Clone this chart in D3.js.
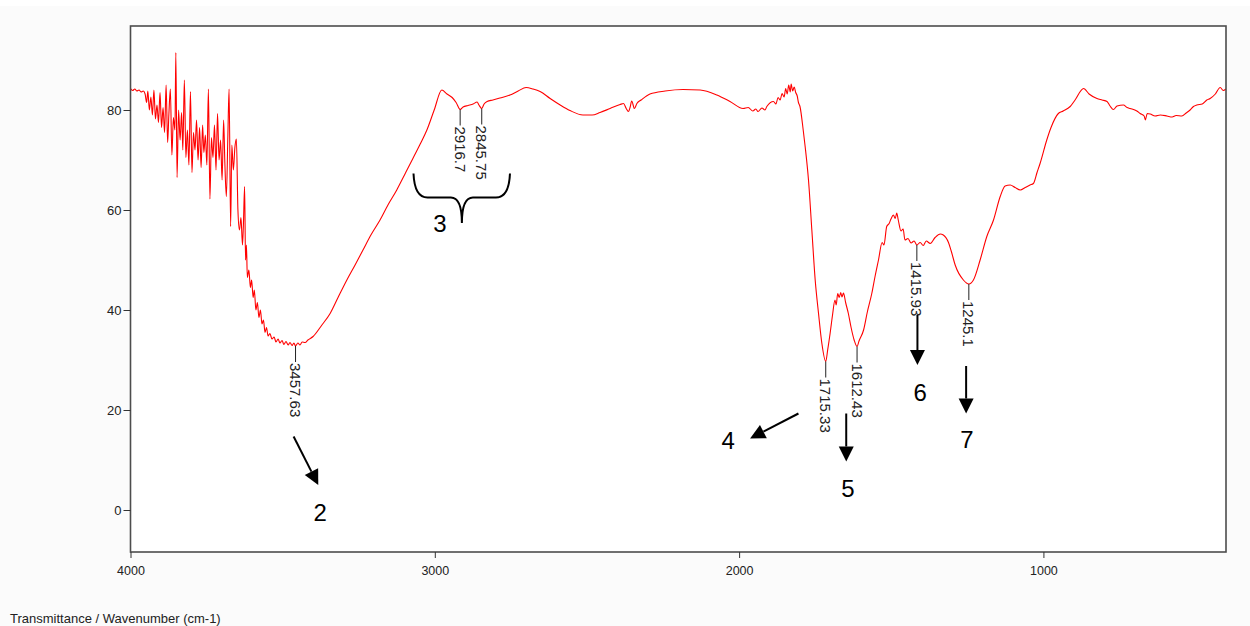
<!DOCTYPE html>
<html>
<head>
<meta charset="utf-8">
<script src="https://cdn.jsdelivr.net/npm/d3@7/dist/d3.min.js"></script>
<style>
  html, body { margin: 0; padding: 0; background: #fbfbfb; }
  svg { display: block; }
  text { font-family: "Liberation Sans", Arial, sans-serif; }
</style>
</head>
<body>
<svg id="chart" width="1250" height="626"></svg>
<script>
// ---- Data ----
const wavenumber = [
  4000,3993,3986,3979,3972,3965,3958,
  3952,3947,3943,3938,3933,3928,3923,3918,3913,3908,3903,3898,3893,3888,3883,3878,3874,3869,3864,3859,3854,3851,3847,3842,
  3837,3832,3828,3823,3818,3813,3808,3803,3798,3793,3788,3783,3778,3773,3768,3763,3759,3754,3749,3744,3739,3734,3729,3724,
  3719,3714,3709,3704,3699,3694,3690,3685,3680,3676,3671,3667,3662,3657,3652,3647,3642,3637,3632,3629,3625,3622,3619,3616,
  3611,3606,3602,3597,3593,3588,3583,3578,3573,3568,3563,3558,3553,3548,3542,3535,3528,3522,3515,3509,3502,3496,3489,3482,
  3476,3469,3463,3457.63,3450,3443,3436,3426,3417,3400,3371,3344,3318,3289,3262,3236,3210,3180,3154,3125,3098,3072,3048,3026,
  3002,2977,2960,2943,2930,2916.7,2907,2891,2874,2861,2855,2845.75,2838,2828,2809,2786,2753,2726,2700,2677,2654,2621,2588,
  2556,2513,2483,2457,2424,2391,2380,2371,2364,2358,2353,2344,2336,2322,2293,2243,2184,2128,2073,2030,1987,1970,1955,1945,
  1938,1925,1915,1909,1887,1879,1872,1865,1859,1852,1847,1842,1837,1832,1829,1824,1819,1814,1809,1805,1800,1789,1783,1772,
  1761,1750,1739,1728,1715.33,1709,1701,1693,1685,1681,1676,1671,1666,1662,1657,1650,1641,1632,1622,1612.43,1606,1591,1579,
  1564,1553,1542,1530,1524,1515,1507,1501,1493,1487,1482,1477,1468,1461,1455,1445,1435,1425,1415.93,1405,1395,1385,1372,1356,
  1339,1329,1312,1303,1290,1263,1245.1,1230,1208,1186,1164,1142,1126,1109,1093,1076,1060,1044,1033,1021,1011,989,975,951,
  935,912,896,868,850,824,807,791,781,770,758,737,725,715,693,682,669,665,659,649,633,616,594,577,564,545,531,518,507,496,
  478,463,452,435,419,409,400
];
const transmittance = [
  84.3,83.9,84.2,83.8,84.0,83.6,83.8,
  83.2,81.5,83.8,80.0,82.6,79.0,84.0,78.2,81.0,77.5,83.5,76.5,80.5,75.5,85.0,73.5,79.0,84.2,71.0,78.5,76.0,91.5,66.5,80.0,
  74.0,79.5,72.0,86.0,70.5,76.0,69.0,83.7,67.5,75.5,72.0,78.0,70.0,76.5,68.5,77.0,71.5,75.0,69.0,84.2,62.2,74.5,70.5,77.0,
  68.0,79.3,70.0,74.0,66.0,78.0,69.5,62.7,75.0,84.2,56.7,73.0,68.0,72.5,74.2,60.0,56.0,58.5,53.0,57.0,64.7,50.0,53.0,46.5,
  48.0,44.5,46.0,42.5,44.0,40.0,41.5,38.5,40.0,37.2,38.0,35.5,36.5,34.8,35.3,34.2,34.6,33.6,34.2,33.4,33.9,33.1,33.7,33.0,
  33.5,32.9,33.4,32.8,33.4,33.0,33.6,33.5,34.0,34.7,37.0,39.3,42.5,46.0,49.0,52.0,55.0,58.0,61.0,64.0,67.2,70.3,73.2,76.0,
  80.0,84.0,83.2,82.5,81.5,80.1,80.6,80.9,81.2,81.6,81.0,80.3,81.2,81.7,82.0,82.4,83.0,83.8,84.5,84.2,83.7,82.3,81.0,
  79.9,79.0,79.0,79.5,80.3,81.1,81.3,80.3,79.7,80.6,81.8,80.3,81.3,82.0,83.2,83.8,84.1,84.0,83.0,81.7,80.3,80.5,79.8,80.2,
  79.7,80.4,80.0,80.7,81.7,81.2,82.5,82.0,83.3,82.6,84.3,83.2,85.0,83.6,85.2,83.8,84.6,83.5,82.8,81.5,80.7,75.8,72.7,66.0,
  56.0,46.0,39.3,33.3,29.7,32.0,35.3,39.0,42.0,41.0,43.3,42.5,43.5,42.6,43.4,41.5,39.3,36.5,34.0,32.7,33.8,36.0,39.5,
  43.3,46.8,50.0,53.5,53.0,56.7,57.3,58.2,59.0,58.3,59.4,58.0,55.8,56.2,54.0,54.3,53.4,53.8,53.0,53.5,52.9,53.8,53.3,54.5,
  55.2,55.0,53.5,51.8,49.0,46.0,45.2,46.0,50.0,54.7,58.0,62.7,64.8,65.0,64.5,64.0,64.5,65.0,65.3,67.5,69.3,74.0,76.5,79.3,
  79.8,80.7,82.0,84.3,83.2,82.3,82.0,81.7,80.8,80.1,80.8,81.0,80.5,80.3,79.8,79.3,78.8,78.0,79.3,79.2,78.8,79.0,78.8,78.6,78.9,78.8,79.4,80.0,80.7,81.0,
  81.2,82.0,82.3,83.2,84.5,83.9,84.2
];

const xTicks = [4000, 3000, 2000, 1000];
const yTicks = [0, 20, 40, 60, 80];

const peakWavenumbers = [3457.63, 2916.7, 2845.75, 1715.33, 1612.43, 1415.93, 1245.1];
const peakLabels = ["3457.63", "2916.7", "2845.75", "1715.33", "1612.43", "1415.93", "1245.1"];

// annotation arrows (data units) and their numbers
const arrowNames = ["2", "4", "5", "6", "7"];
const arrowFrom = [[3464, 14.7], [1805, 19.3], [1648, 19.3], [1414, 39.0], [1254, 28.8]];
const arrowTo   = [[3383, 5.0], [1964, 14.3], [1648, 9.7], [1414, 29.0], [1254, 19.3]];
const arrowLabelPos = [[3377, -2.2], [2036, 12.2], [1642, 2.6], [1405, 21.8], [1251, 12.4]];
// brace "3": left, centre, right wavenumber; top, bar, tip transmittance; label position
const braceWn = [3070, 2911, 2753];
const braceT = [67.3, 62.5, 57.4];
const braceLabelPos = [2983, 55.6];

const axisTitle = "Transmittance / Wavenumber (cm-1)";

// ---- Layout ----
const W = 1250, H = 626;
const mLeft = 130.5, mRight = 1226, mTop = 26, mBottom = 552;

const svg = d3.select("#chart");
svg.append("rect").attr("x", 0).attr("y", 0).attr("width", W).attr("height", 6).attr("fill", "#ffffff");

const x = d3.scaleLinear().domain([4000, 400]).range([mLeft, mRight]);
const y = d3.scaleLinear().domain([-8.4, 96.8]).range([mBottom, mTop]);

// plot area
svg.append("rect")
  .attr("x", mLeft).attr("y", mTop)
  .attr("width", mRight - mLeft).attr("height", mBottom - mTop)
  .attr("fill", "#ffffff");

const data = wavenumber.map((w, i) => ({ w, t: transmittance[i] }));

svg.append("clipPath").attr("id", "clip")
  .append("rect").attr("x", mLeft).attr("y", mTop).attr("width", mRight - mLeft).attr("height", mBottom - mTop);

const line = d3.line()
  .x(d => x(d.w))
  .y(d => y(d.t))
  .curve(d3.curveMonotoneX);

svg.append("path")
  .datum(data)
  .attr("clip-path", "url(#clip)")
  .attr("fill", "none")
  .attr("stroke", "#ff0000")
  .attr("stroke-width", 1.1)
  .attr("stroke-linejoin", "round")
  .attr("d", line);

// frame
svg.append("rect")
  .attr("x", mLeft).attr("y", mTop)
  .attr("width", mRight - mLeft).attr("height", mBottom - mTop)
  .attr("fill", "none")
  .attr("stroke", "#4d4d4d")
  .attr("stroke-width", 1.6);

// axes
const yAxis = d3.axisLeft(y).tickValues(yTicks).tickSize(7).tickPadding(2);
const gy = svg.append("g").attr("transform", `translate(${mLeft},0)`).call(yAxis);
gy.select(".domain").remove();
gy.selectAll("line").attr("stroke", "#333");
gy.selectAll("text").attr("font-size", 13).attr("fill", "#222")
  .style("font-family", '"Liberation Sans", Arial, sans-serif');

const xAxis = d3.axisBottom(x).tickValues(xTicks).tickFormat(d3.format("d")).tickSize(6).tickPadding(8);
const gx = svg.append("g").attr("transform", `translate(0,${mBottom})`).call(xAxis);
gx.select(".domain").remove();
gx.selectAll("line").attr("stroke", "#333");
gx.selectAll("text").attr("font-size", 12.5).attr("fill", "#222")
  .style("font-family", '"Liberation Sans", Arial, sans-serif');

// peak labels
peakWavenumbers.forEach((pw, i) => {
  const d = data.find(p => p.w === pw);
  const px = x(pw), py = y(d.t);
  svg.append("line")
    .attr("x1", px).attr("x2", px)
    .attr("y1", py).attr("y2", py + 16)
    .attr("stroke", "#222").attr("stroke-width", 1);
  svg.append("text")
    .attr("transform", `translate(${px},${py + 17}) rotate(90)`)
    .attr("dy", "0.36em")
    .attr("font-size", 15)
    .attr("fill", "#222")
    .text(peakLabels[i]);
});

// arrows
function arrow(x1, y1, x2, y2) {
  const ang = Math.atan2(y2 - y1, x2 - x1);
  const L = 15, hw = 7.5;
  const bx = x2 - L * Math.cos(ang), by = y2 - L * Math.sin(ang);
  svg.append("line")
    .attr("x1", x1).attr("y1", y1).attr("x2", bx).attr("y2", by)
    .attr("stroke", "#000").attr("stroke-width", 2);
  const nx = -Math.sin(ang), ny = Math.cos(ang);
  svg.append("path")
    .attr("d", `M${x2},${y2} L${bx + nx * hw},${by + ny * hw} L${bx - nx * hw},${by - ny * hw} Z`)
    .attr("fill", "#000");
}
arrowNames.forEach((n, i) => {
  arrow(x(arrowFrom[i][0]), y(arrowFrom[i][1]), x(arrowTo[i][0]), y(arrowTo[i][1]));
  svg.append("text")
    .attr("x", x(arrowLabelPos[i][0])).attr("y", y(arrowLabelPos[i][1]))
    .attr("text-anchor", "middle")
    .attr("font-size", 24)
    .attr("fill", "#000")
    .text(n);
});

// brace
{
  const xl = x(braceWn[0]), xc = x(braceWn[1]), xr = x(braceWn[2]);
  const yt = y(braceT[0]), yb = y(braceT[1]), yp = y(braceT[2]);
  const p = `M${xl},${yt} Q${xl + 1},${yb} ${xl + 14},${yb} L${xc - 11},${yb} Q${xc},${yb} ${xc},${yp} ` +
            `M${xc},${yp} Q${xc},${yb} ${xc + 11},${yb} L${xr - 14},${yb} Q${xr - 1},${yb} ${xr},${yt}`;
  svg.append("path").attr("d", p).attr("fill", "none").attr("stroke", "#000").attr("stroke-width", 2);
  svg.append("text")
    .attr("x", x(braceLabelPos[0])).attr("y", y(braceLabelPos[1]))
    .attr("text-anchor", "middle")
    .attr("font-size", 24)
    .attr("fill", "#000")
    .text("3");
}

// axis title (bottom left)
svg.append("text")
  .attr("x", 10).attr("y", 623)
  .attr("font-size", 13)
  .attr("fill", "#222")
  .text(axisTitle);
</script>
</body>
</html>
